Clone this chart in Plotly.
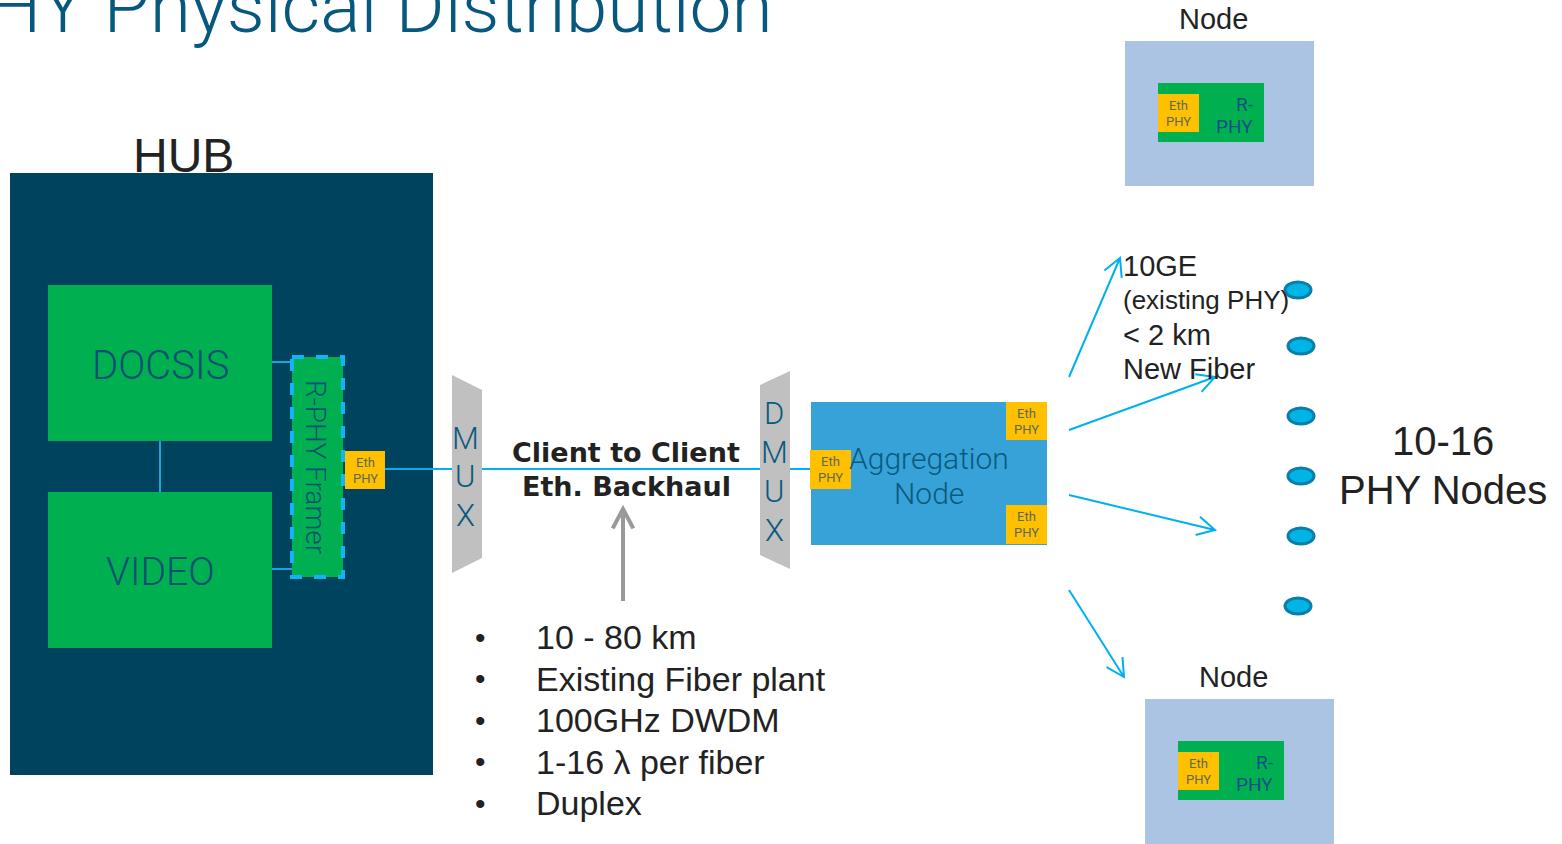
import numpy as np
import plotly.graph_objects as go

# labels used in the diagram
TITLE = "R-PHY Physical Distribution"
HUB_LABEL = "HUB"
HUB_BLOCKS = ["DOCSIS", "VIDEO"]
FRAMER_LABEL = "R-PHY Framer"
ETH_PHY = ["Eth", "PHY"]
MUX_LETTERS = ["M", "U", "X"]
DMUX_LETTERS = ["D", "M", "U", "X"]
BACKHAUL_LINES = ["Client to Client", "Eth. Backhaul"]
BULLETS = ["10 - 80 km", "Existing Fiber plant", "100GHz DWDM", "1-16 \u03bb per fiber", "Duplex"]
AGG_LINES = ["Aggregation", "Node"]
LINK_LINES = ["10GE", "(existing PHY)", "< 2 km", "New Fiber"]
NODE_COUNT_LINES = ["10-16", "PHY Nodes"]
NODE_LABEL = "Node"
RPHY_LINES = ["R-", "PHY"]

W, H = 1562, 844
GREEN = "#00b050"
YELLOW = "#ffc000"
CYAN = "#00b0f0"
DARKTXT = "#0b4f73"
ARIAL = "Liberation Sans"
THIN = "Roboto"

fig = go.Figure()
shapes = []
notes = []


def rect(x0, y0, x1, y1, color, **kw):
    shapes.append(dict(type="rect", x0=x0, y0=y0, x1=x1, y1=y1, fillcolor=color,
                       line=kw.get("line", dict(width=0)), layer="above"))


def line(x0, y0, x1, y1, color=CYAN, width=2):
    shapes.append(dict(type="line", x0=x0, y0=y0, x1=x1, y1=y1,
                       line=dict(color=color, width=width), layer="above"))


def path(d, color, fill=None, width=2):
    s = dict(type="path", path=d, line=dict(color=color, width=width), layer="above")
    if fill:
        s["fillcolor"] = fill
    shapes.append(s)


def text(x, y, s, size, color="#222222", family=ARIAL, xanchor="center", weight=None, angle=0):
    f = dict(size=size, color=color, family=family)
    if weight:
        f["weight"] = weight
    notes.append(dict(x=x, y=y, text=s, showarrow=False, xanchor=xanchor, yanchor="middle",
                      font=f, textangle=angle))


def arrow(x0, y0, x1, y1, color=CYAN, width=2, head=20):
    d = np.array([x1 - x0, y1 - y0], float)
    d /= np.linalg.norm(d)
    pts = []
    for a in (np.radians(28), -np.radians(28)):
        r = np.array([d[0] * np.cos(a) - d[1] * np.sin(a), d[0] * np.sin(a) + d[1] * np.cos(a)])
        pts.append((x1 - head * r[0], y1 - head * r[1]))
    path(f"M {x0} {y0} L {x1} {y1} M {pts[0][0]:.1f} {pts[0][1]:.1f} L {x1} {y1} "
         f"L {pts[1][0]:.1f} {pts[1][1]:.1f}", color, width=width)


def eth_phy(x0, y0, x1, y1, size=13):
    rect(x0, y0, x1, y1, YELLOW)
    cy = (y0 + y1) / 2
    text((x0 + x1) / 2, cy - 8, ETH_PHY[0], size, "#5d6b55", THIN)
    text((x0 + x1) / 2, cy + 8, ETH_PHY[1], size, "#5d6b55", THIN)


# title (clipped at page edge, like the slide it was taken from)
text(775, 6, TITLE, 75, "#07587f", THIN, xanchor="right", weight=300)

# HUB
text(183, 155, HUB_LABEL, 48)
rect(10, 173, 433, 775, "#00435e")
rect(48, 285, 272, 441, GREEN)
rect(48, 492, 272, 648, GREEN)
text(160, 365, HUB_BLOCKS[0], 40, DARKTXT, THIN, weight=300)
text(160, 572, HUB_BLOCKS[1], 39, DARKTXT, THIN, weight=300)
line(160, 441, 160, 492, "#1aa6d6", 2)
line(272, 362, 292, 362, "#1aa6d6", 2)
line(272, 569, 292, 569, "#1aa6d6", 2)
rect(292, 357, 343, 577, GREEN, line=dict(color="#12b4f5", width=4, dash="dash"))
text(316, 467, FRAMER_LABEL, 28, DARKTXT, THIN, angle=90, weight=300)
eth_phy(345, 451, 385, 489)

# links
line(385, 469, 452, 469)
line(482, 469, 760, 469)
line(790, 469, 811, 469)

# MUX / DMUX
path("M 452 375 L 482 390 L 482 558 L 452 573 Z", "#c0c0c0", fill="#c0c0c0", width=0)
for i, ch in enumerate(MUX_LETTERS):
    text(465, 438 + 38.5 * i, ch, 31, "#0b5a7d", THIN, weight=300)
path("M 760 385 L 790 371 L 790 569 L 760 555 Z", "#c0c0c0", fill="#c0c0c0", width=0)
for i, ch in enumerate(DMUX_LETTERS):
    text(774, 413 + 39 * i, ch, 31, "#0b5a7d", THIN, weight=300)

# backhaul label and arrow
text(626, 452, BACKHAUL_LINES[0], 27, "#222222", "DejaVu Sans", weight=700)
text(626, 486, BACKHAUL_LINES[1], 27, "#222222", "DejaVu Sans", weight=700)
arrow(623, 601, 623, 509, "#999999", 4, head=22)

# bullets
for i, b in enumerate(BULLETS):
    y = 637 + 41.5 * i
    text(480, y, "\u2022", 30, "#222222", ARIAL)
    text(534, y, b, 34, "#222222", ARIAL, xanchor="left")

# Aggregation node
rect(811, 402, 1047, 545, "#36a2d8")
text(929, 458, AGG_LINES[0], 30, "#0b5a7d", THIN, weight=300)
text(929, 493, AGG_LINES[1], 30, "#0b5a7d", THIN, weight=300)
eth_phy(810, 450, 851, 489)
eth_phy(1006, 402, 1047, 440)
eth_phy(1006, 505, 1047, 544)

# fan-out arrows
arrow(1069, 377, 1120, 258)
arrow(1069, 430, 1215, 377)
arrow(1069, 495, 1215, 530)
arrow(1069, 590, 1124, 677)

# link description
sizes = [29, 26, 29, 29]
for i, (s, sz) in enumerate(zip(LINK_LINES, sizes)):
    text(1121, 266 + 34.3 * i, s, sz, "#222222", ARIAL, xanchor="left")

# node dots
for cx, cy in [(1298, 290), (1301, 346), (1301, 416), (1301, 476), (1301, 536), (1298, 606)]:
    shapes.append(dict(type="circle", x0=cx - 13, y0=cy - 8, x1=cx + 13, y1=cy + 8,
                       fillcolor="#00b4e6", line=dict(color="#0a7ea8", width=3), layer="above"))

text(1443, 441, NODE_COUNT_LINES[0], 40)
text(1443, 490, NODE_COUNT_LINES[1], 40)


def node(x0, y0, label_x):
    text(label_x, y0 - 22, NODE_LABEL, 29)
    rect(x0, y0, x0 + 189, y0 + 145, "#abc4e3")
    rect(x0 + 33, y0 + 42, x0 + 139, y0 + 101, GREEN)
    eth_phy(x0 + 33, y0 + 53, x0 + 74, y0 + 91)
    text(x0 + 130, y0 + 63, RPHY_LINES[0], 19, "#0e4f86", THIN, xanchor="right")
    text(x0 + 130, y0 + 85, RPHY_LINES[1], 19, "#0e4f86", THIN, xanchor="right")


node(1125, 41, 1213)
node(1145, 699, 1233)

fig.update_layout(
    width=W, height=H, margin=dict(l=0, r=0, t=0, b=0),
    paper_bgcolor="white", plot_bgcolor="white", showlegend=False,
    xaxis=dict(range=[0, W], visible=False, fixedrange=True),
    yaxis=dict(range=[H, 0], visible=False, fixedrange=True),
    shapes=shapes, annotations=notes,
)
# page body has a default 8px margin; drop it so the figure sits at the window origin
fig.write_html("out.html", config={"displayModeBar": False},
               post_script="document.body.style.margin='0';")
